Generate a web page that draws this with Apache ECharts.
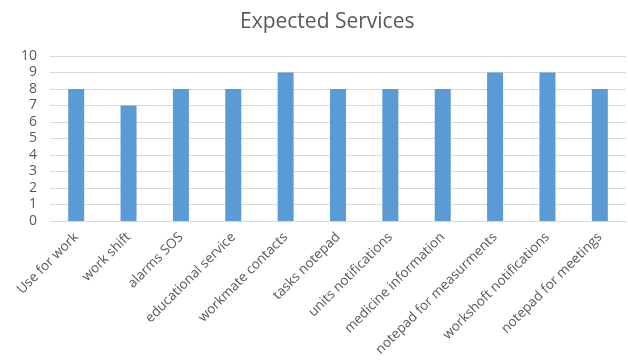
<!DOCTYPE html>
<html><head><meta charset="utf-8">
<script src="https://cdn.jsdelivr.net/npm/echarts@6/dist/echarts.min.js"></script>
<style>html,body{margin:0;padding:0;background:#fff}#c{width:628px;height:363px}</style>
</head><body><div id="c"></div>
<script>
const categories = ["Use for work","work shift","alarms SOS","educational service","workmate contacts","tasks notepad","units notifications","medicine information","notepad for measurments","workshoft notifications","notepad for meetings"];
const values = [8,7,8,8,9,8,8,8,9,9,8];
const chart = echarts.init(document.getElementById('c'));
chart.setOption({
  animation:false,
  title:{text:'Expected Services',left:235,top:7,textStyle:{fontFamily:'Open Sans',fontWeight:'normal',fontSize:21,color:'#595959'}},
  grid:{left:50,right:2,top:56,bottom:142},
  xAxis:{type:'category',data:categories,
    axisLine:{lineStyle:{color:'#d9d9d9'}},axisTick:{show:false},
    axisLabel:{rotate:45,interval:0,color:'#595959',fontFamily:'Open Sans',fontSize:13.5,margin:14}},
  yAxis:{type:'value',min:0,max:10,interval:1,
    axisLine:{show:false},axisTick:{show:false},
    splitLine:{lineStyle:{color:'#d9d9d9'}},
    axisLabel:{color:'#595959',fontFamily:'Open Sans',fontSize:14,margin:13}},
  series:[{type:'bar',data:values,barWidth:16,itemStyle:{color:'#5b9bd5'}}]
});
</script></body></html>
